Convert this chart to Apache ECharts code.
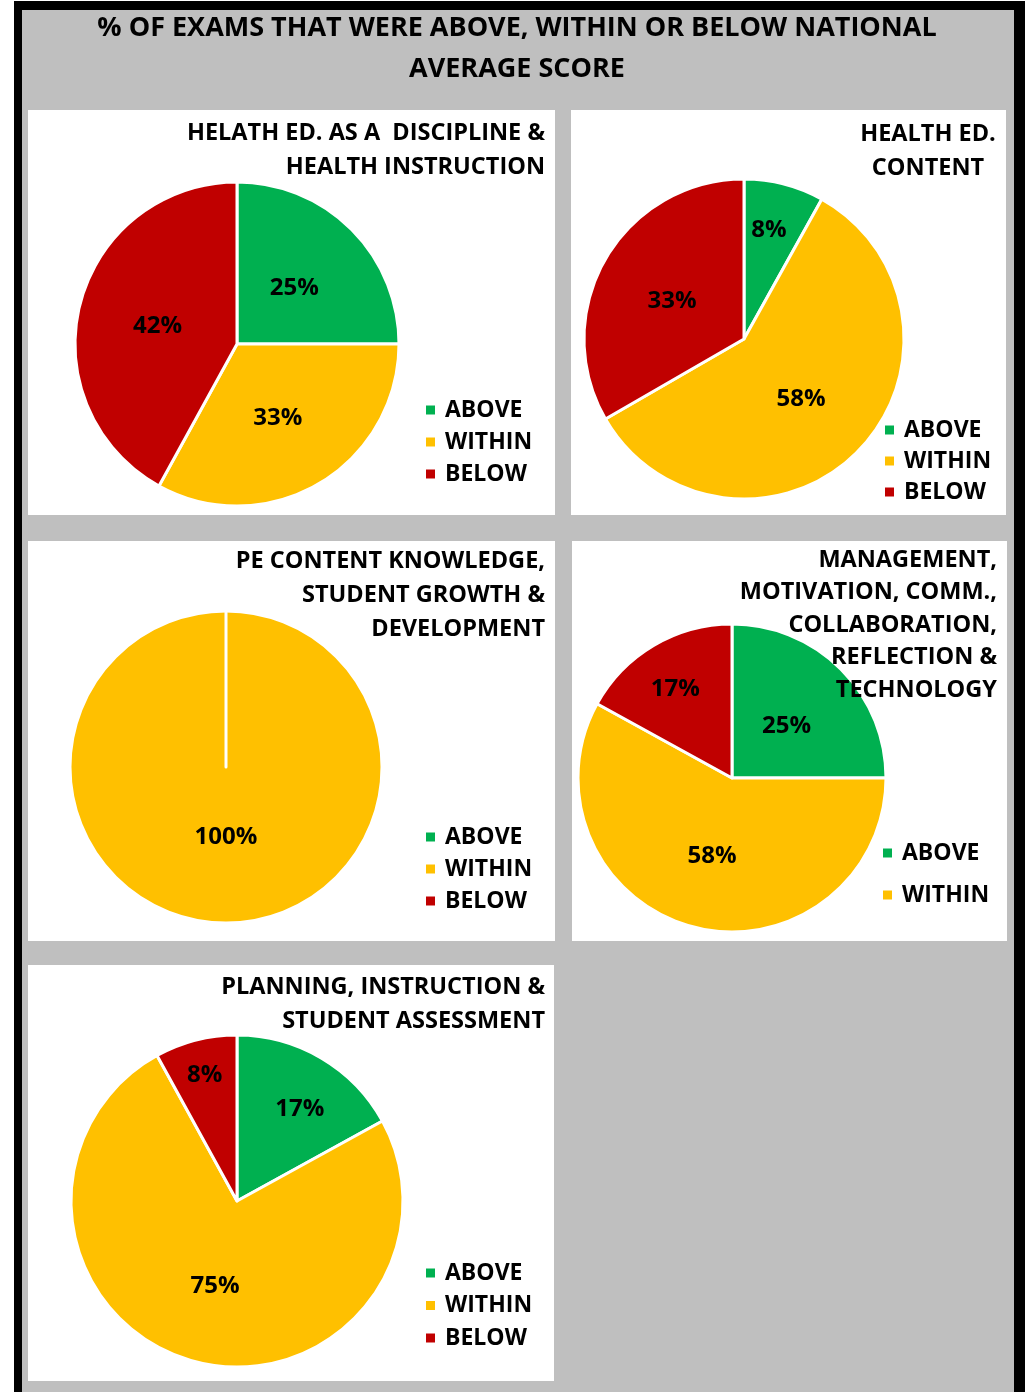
<!DOCTYPE html>
<html>
<head>
<meta charset="utf-8">
<script src="https://cdn.jsdelivr.net/npm/echarts@6/dist/echarts.min.js"></script>
<style>
  html, body { margin: 0; padding: 0; background: #fff; }
  #chart { width: 1025px; height: 1392px; }
</style>
</head>
<body>
<div id="chart"></div>
<script>
const categories = ['ABOVE', 'WITHIN', 'BELOW']
const colors = ['#00B050', '#FFC000', '#C00000']

const mainTitle = '% OF EXAMS THAT WERE ABOVE, WITHIN OR BELOW NATIONAL\nAVERAGE SCORE'
const panelTitles = [
  'HELATH ED. AS A  DISCIPLINE &\nHEALTH INSTRUCTION',
  'HEALTH ED.\nCONTENT',
  'PE CONTENT KNOWLEDGE,\nSTUDENT GROWTH &\nDEVELOPMENT',
  'MANAGEMENT,\nMOTIVATION, COMM.,\nCOLLABORATION,\nREFLECTION &\nTECHNOLOGY',
  'PLANNING, INSTRUCTION &\nSTUDENT ASSESSMENT'
]

// % of exams: above / within / below
const healthDiscipline = [25, 33, 42]
const healthContent = [8, 58, 33]
const peContent = [0, 100, 0]
const management = [25, 58, 17]
const planning = [17, 75, 8]

const panelValues = [healthDiscipline, healthContent, peContent, management, planning]
const legendItems = [categories, categories, categories, ['ABOVE', 'WITHIN'], categories]

// layout of each panel (pixels); labelNudge mimics excel "best fit" for thin slices
const panels = [
  { box: [28, 110, 527, 405], center: [237, 344], r: 162, title: { x: 545, y: 116, align: 'right', lh: 34 }, legend: { left: 424, top: 398, gap: 8 },
    labelNudge: [[-2, 4], [-2, 2], [2, 3]] },
  { box: [571, 110, 435, 405], center: [744, 339], r: 160, title: { x: 928, y: 117, align: 'center', lh: 34 }, legend: { left: 883, top: 418, gap: 7 },
    labelNudge: [[4, -29], [-2, 2], [0, 4]] },
  { box: [28, 541, 527, 400], center: [226, 767], r: 156, title: { x: 545, y: 544, align: 'right', lh: 34 }, legend: { left: 424, top: 825, gap: 8 },
    labelNudge: [[0, 0], [0, -11], [0, 0]] },
  { box: [572, 541, 435, 400], center: [732, 778], r: 154, title: { x: 997, y: 544, align: 'right', lh: 32.5 }, legend: { left: 881, top: 841, gap: 18 },
    labelNudge: [[-2, 5], [0, 1], [-16, -20]] },
  { box: [28, 965, 526, 416], center: [237, 1201], r: 166, title: { x: 545, y: 970, align: 'right', lh: 34 }, legend: { left: 424, top: 1261, gap: 8.5 },
    labelNudge: [[19, -18], [2, 3], [-11, -43]] }
]

const font = '"Open Sans", "Liberation Sans", sans-serif'

const graphics = [
  { type: 'rect', shape: { x: 14, y: 1, width: 1011, height: 1391 }, style: { fill: '#000' }, z: -20, silent: true },
  { type: 'rect', shape: { x: 22, y: 10, width: 992, height: 1382 }, style: { fill: '#BFBFBF' }, z: -19, silent: true },
  {
    type: 'text', z: 10, silent: true,
    style: {
      text: mainTitle, x: 517, y: 8, align: 'center', verticalAlign: 'top',
      fontSize: 27, fontWeight: 'bold', fontFamily: font, lineHeight: 41, fill: '#000'
    }
  }
]

const series = []
const legends = []

panels.forEach((p, i) => {
  graphics.push({
    type: 'rect', z: -18, silent: true,
    shape: { x: p.box[0], y: p.box[1], width: p.box[2], height: p.box[3] },
    style: { fill: '#fff' }
  })
  graphics.push({
    type: 'text', z: 10, silent: true,
    style: {
      text: panelTitles[i], x: p.title.x, y: p.title.y, align: p.title.align, verticalAlign: 'top',
      fontSize: 23.5, fontWeight: 'bold', fontFamily: font, lineHeight: p.title.lh, fill: '#000'
    }
  })
  series.push({
    type: 'pie',
    center: p.center,
    radius: p.r,
    startAngle: 90,
    clockwise: true,
    avoidLabelOverlap: false,
    animation: false,
    itemStyle: { borderColor: '#fff', borderWidth: 3 },
    label: {
      show: true,
      position: 'inside',
      formatter: d => d.value > 0 ? d.value + '%' : '',
      color: '#000',
      fontSize: 24,
      fontWeight: 'bold',
      fontFamily: font
    },
    labelLine: { show: false },
    emphasis: { disabled: true },
    data: categories.map((name, k) => ({
      name,
      value: panelValues[i][k],
      itemStyle: { color: colors[k] },
      label: { offset: p.labelNudge[k] }
    }))
  })
  legends.push({
    data: legendItems[i],
    orient: 'vertical',
    left: p.legend.left,
    top: p.legend.top,
    padding: 0,
    itemGap: p.legend.gap,
    itemWidth: 11,
    itemHeight: 11,
    icon: 'rect',
    selectedMode: false,
    textStyle: {
      fontSize: 23,
      fontWeight: 'bold',
      fontFamily: font,
      color: '#000',
      lineHeight: 24,
      padding: [0, 0, 0, 4]
    }
  })
})

const myChart = echarts.init(document.getElementById('chart'))
myChart.setOption({
  backgroundColor: '#fff',
  animation: false,
  graphic: graphics,
  legend: legends,
  series
})
</script>
</body>
</html>
